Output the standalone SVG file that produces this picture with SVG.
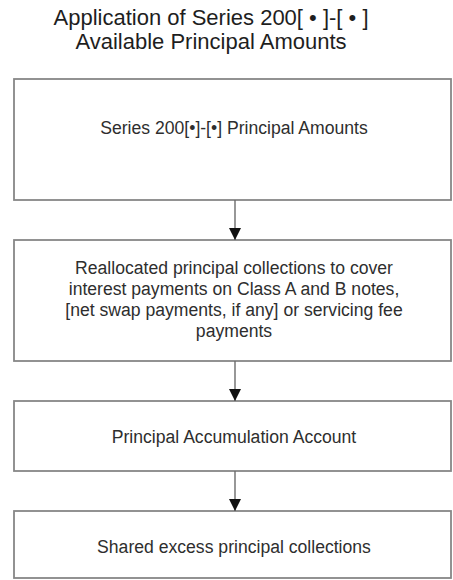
<svg xmlns="http://www.w3.org/2000/svg" width="453" height="580" viewBox="0 0 453 580">
  <defs>
    <marker id="arrow" markerWidth="12" markerHeight="12" refX="12" refY="6" orient="auto" markerUnits="userSpaceOnUse">
      <path d="M0,0 L12,6 L0,12 Z" fill="#111"/>
    </marker>
    <style>
      .box { fill: #ffffff; stroke: #878787; stroke-width: 1.8; }
      .label { font-family: "Liberation Sans", Arial, sans-serif; font-size: 17.6px; fill: #2e2e2e; text-anchor: middle; }
      .title { font-family: "Liberation Sans", Arial, sans-serif; font-size: 22px; fill: #1e1e1e; text-anchor: middle; }
      .link { stroke: #6c6c6c; stroke-width: 1.4; fill: none; marker-end: url(#arrow); }
    </style>
  </defs>

  <rect width="453" height="580" fill="#ffffff"/>

  <!-- heading -->
  <g id="title">
    <text class="title" x="211" y="25">Application of Series 200[ • ]-[ • ]</text>
    <text class="title" x="211" y="49">Available Principal Amounts</text>
  </g>

  <!-- flow steps -->
  <g id="principal-amounts">
    <rect class="box" x="14" y="79" width="437" height="121"/>
    <text class="label" x="234" y="134">Series 200[•]-[•] Principal Amounts</text>
  </g>

  <g id="reallocated-collections">
    <rect class="box" x="14" y="240" width="437" height="121"/>
    <text class="label" x="234" y="274">Reallocated principal collections to cover</text>
    <text class="label" x="234" y="295">interest payments on Class A and B notes,</text>
    <text class="label" x="234" y="316">[net swap payments, if any] or servicing fee</text>
    <text class="label" x="234" y="337">payments</text>
  </g>

  <g id="accumulation-account">
    <rect class="box" x="14" y="401" width="437" height="70"/>
    <text class="label" x="234" y="443">Principal Accumulation Account</text>
  </g>

  <g id="shared-excess">
    <rect class="box" x="14" y="511" width="437" height="67"/>
    <text class="label" x="234" y="553">Shared excess principal collections</text>
  </g>

  <!-- connectors -->
  <g id="connectors">
    <path class="link" d="M235,200 V240"/>
    <path class="link" d="M235,361 V401"/>
    <path class="link" d="M235,471 V511"/>
  </g>
</svg>
